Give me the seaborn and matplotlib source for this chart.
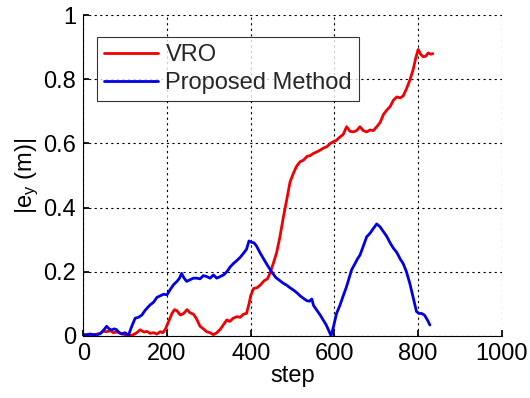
import matplotlib
matplotlib.use("Agg")
import matplotlib.pyplot as plt
import pandas as pd
import seaborn as sns

# values
vro_step = [0, 10, 20, 30, 40, 48, 55, 65, 72, 80, 90, 100, 108, 118, 128, 136, 145, 152,
            160, 168, 176, 184, 190, 196, 204, 212, 218, 224, 232, 240, 248, 255, 263, 270,
            279, 287, 295, 303, 311, 318, 327, 335, 343, 350, 358, 367, 375, 383, 390, 396,
            400, 407, 415, 424, 432, 440, 446, 455, 462, 470, 478, 486, 494, 502, 510, 518,
            526, 535, 542, 550, 560, 567, 573, 582, 590, 597, 605, 613, 621, 629, 637, 645,
            653, 661, 669, 677, 685, 693, 701, 709, 717, 725, 733, 741, 749, 757, 764, 772,
            780, 788, 794, 800, 806, 812, 818, 824, 830, 835]
vro_err = [0.003, 0.004, 0.003, 0.005, 0.008, 0.015, 0.013, 0.016, 0.010, 0.012, 0.008, 0.004,
           0.000, 0.003, 0.010, 0.019, 0.012, 0.014, 0.008, 0.010, 0.006, 0.013, 0.010, 0.020,
           0.045, 0.070, 0.082, 0.078, 0.065, 0.070, 0.082, 0.072, 0.068, 0.055, 0.030, 0.022,
           0.013, 0.010, 0.004, 0.009, 0.020, 0.035, 0.050, 0.045, 0.055, 0.060, 0.058, 0.068,
           0.070, 0.100, 0.125, 0.148, 0.150, 0.160, 0.172, 0.178, 0.195, 0.230, 0.260, 0.310,
           0.370, 0.424, 0.480, 0.507, 0.530, 0.543, 0.548, 0.560, 0.562, 0.569, 0.575, 0.580,
           0.585, 0.590, 0.600, 0.605, 0.610, 0.620, 0.628, 0.652, 0.638, 0.636, 0.640, 0.652,
           0.640, 0.636, 0.642, 0.640, 0.652, 0.665, 0.690, 0.704, 0.715, 0.735, 0.745, 0.742,
           0.748, 0.770, 0.797, 0.830, 0.865, 0.893, 0.878, 0.870, 0.872, 0.882, 0.878, 0.880]

pm_step = [0, 8, 16, 24, 33, 42, 50, 56, 62, 68, 74, 79, 86, 92, 100, 108, 116, 124, 132,
           140, 148, 155, 160, 168, 176, 184, 192, 200, 208, 216, 224, 230, 235, 241, 247,
           255, 263, 271, 279, 287, 295, 303, 311, 319, 327, 335, 343, 351, 359, 367, 375,
           383, 390, 396, 402, 408, 414, 422, 430, 440, 450, 460, 470, 478, 486, 494, 502,
           510, 518, 526, 534, 540, 546, 550, 558, 566, 573, 580, 586, 592, 598, 605, 613,
           621, 629, 635, 641, 649, 655, 661, 669, 677, 685, 693, 701, 709, 717, 725, 733,
           741, 749, 757, 764, 772, 780, 788, 796, 802, 808, 815, 822, 828]
pm_err = [0.004, 0.003, 0.006, 0.004, 0.003, 0.008, 0.020, 0.030, 0.022, 0.018, 0.022, 0.020,
          0.010, 0.006, 0.010, 0.002, 0.030, 0.055, 0.058, 0.065, 0.080, 0.090, 0.097, 0.105,
          0.120, 0.125, 0.130, 0.128, 0.145, 0.160, 0.170, 0.180, 0.195, 0.180, 0.170, 0.175,
          0.180, 0.180, 0.178, 0.188, 0.185, 0.180, 0.190, 0.180, 0.185, 0.190, 0.200, 0.215,
          0.226, 0.235, 0.245, 0.258, 0.270, 0.296, 0.292, 0.290, 0.280, 0.260, 0.242, 0.220,
          0.200, 0.182, 0.172, 0.164, 0.158, 0.150, 0.143, 0.135, 0.125, 0.117, 0.110, 0.108,
          0.115, 0.095, 0.080, 0.065, 0.050, 0.035, 0.018, 0.000, 0.030, 0.070, 0.095, 0.125,
          0.154, 0.180, 0.206, 0.225, 0.240, 0.252, 0.280, 0.309, 0.320, 0.335, 0.349, 0.340,
          0.325, 0.310, 0.290, 0.273, 0.260, 0.240, 0.226, 0.200, 0.164, 0.120, 0.076, 0.070,
          0.070, 0.065, 0.050, 0.034]

x_ticks = [0, 200, 400, 600, 800, 1000]
y_ticks = [0, 0.2, 0.4, 0.6, 0.8, 1.0]
y_tick_labels = ["0", "0.2", "0.4", "0.6", "0.8", "1"]

df = pd.concat([
    pd.DataFrame({"step": vro_step, "err": vro_err, "method": "VRO"}),
    pd.DataFrame({"step": pm_step, "err": pm_err, "method": "Proposed Method"}),
])

sns.set_theme(style="ticks")
plt.rcParams["font.family"] = ["Liberation Sans", "DejaVu Sans"]
plt.rcParams["mathtext.default"] = "regular"

fig = plt.figure(figsize=(5.3, 3.98), dpi=100)
ax = fig.add_axes([0.157, 0.156, 0.79, 0.806])

sns.lineplot(data=df, x="step", y="err", hue="method", sort=False,
             palette={"VRO": "#f00000", "Proposed Method": "#0000e6"},
             linewidth=2.0, ax=ax)

ax.set_xlim(0, 1000)
ax.set_ylim(0, 1)
ax.set_xticks(x_ticks)
ax.set_yticks(y_ticks)
ax.set_yticklabels(y_tick_labels)
ax.grid(True, color="black", linestyle=(0, (2, 3)), linewidth=0.8)
ax.tick_params(direction="in", length=4, labelsize=17, colors="black", pad=5)
for side in ["top", "right"]:
    ax.spines[side].set_visible(False)
for side in ["left", "bottom"]:
    ax.spines[side].set_color("black")
    ax.spines[side].set_linewidth(0.8)

ax.set_xlabel("step", fontsize=17, labelpad=0, color="black")
ax.set_ylabel("|e$_y$ (m)|", fontsize=17, labelpad=2, color="black")

leg = ax.legend(loc="upper left", bbox_to_anchor=(0.033, 0.931), borderaxespad=0,
                fontsize=17, frameon=True, fancybox=False, handlelength=2.3,
                handletextpad=0.3, borderpad=0.3, labelspacing=0.25)
leg.get_frame().set_edgecolor("black")
leg.get_frame().set_linewidth(0.8)
leg.set_title(None)

fig.savefig("out.png", dpi=100)
